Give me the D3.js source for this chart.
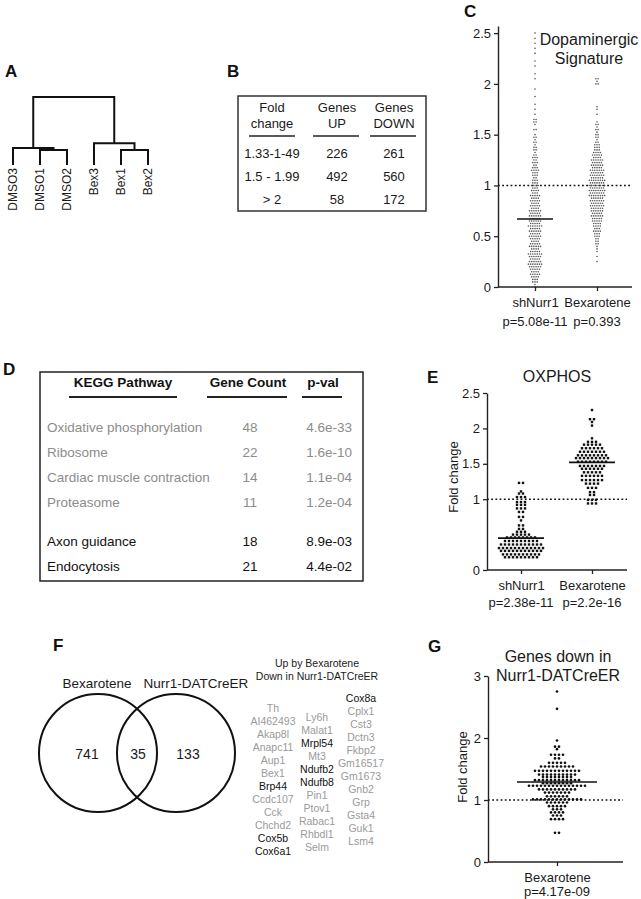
<!DOCTYPE html>
<html>
<head>
<meta charset="utf-8">
<script src="https://cdnjs.cloudflare.com/ajax/libs/d3/7.8.5/d3.min.js"></script>
<style>
body { margin: 0; background: #fff; }
svg { display: block; font-family: "Liberation Sans", Arial, sans-serif; }
</style>
</head>
<body>
<script>

var width = 641,
  height = 899;

// ---- data ----

// A: dendrogram (merge heights in relative distance)
var leafNames = ["DMSO3", "DMSO1", "DMSO2", "Bex3", "Bex1", "Bex2"];
var mergeHeights = { root: 1, dmso: 0.25, dmso12: 0.22, bex: 0.32, bex12: 0.22 };

// B: fold change table
var foldRanges = ["1.33-1-49", "1.5 - 1.99", "> 2"];
var genesUp = [226, 492, 58];
var genesDown = [261, 560, 172];
var tableBHeaders = [["Fold", "change"], ["Genes", "UP"], ["Genes", "DOWN"]];

// C: dopaminergic signature, [fold change, number of genes at that level]
var cCategories = ["shNurr1", "Bexarotene"];
var cPvals = ["p=5.08e-11", "p=0.393"];
var cShNurr1 = [[2.5,1],[2.45,1],[2.4,1],[2.35,1],[2.3,1],[2.225,1],[2.175,1],[2.1,1],[2.05,1],[1.95,1],[1.875,1],[1.8,1],
  [1.75,1],[1.7,1],[1.65,2],[1.625,2],[1.6,1],[1.55,2],[1.5,1],[1.475,2],[1.45,1],[1.425,2],[1.4,1],[1.375,2],[1.35,2],
  [1.325,1],[1.3,2],[1.275,3],[1.25,2],[1.225,3],[1.2,2],[1.175,3],[1.15,4],[1.125,3],[1.1,3],[1.075,2],[1.05,3],[1.025,3],
  [1.0,4],[0.975,3],[0.95,4],[0.925,3],[0.9,5],[0.875,4],[0.85,5],[0.825,4],[0.8,5],[0.775,4],[0.75,6],[0.725,5],[0.7,6],
  [0.675,5],[0.65,6],[0.625,5],[0.6,7],[0.575,5],[0.55,6],[0.525,5],[0.5,6],[0.475,5],[0.45,4],[0.425,5],[0.4,6],[0.375,4],
  [0.35,5],[0.325,7],[0.3,6],[0.275,5],[0.25,6],[0.225,7],[0.2,6],[0.175,5],[0.15,4],[0.125,5],[0.1,4],[0.075,3],[0.05,3],
  [0.025,1],[0,1]];
var cBexarotene = [[2.05,2],[2.025,1],[2.0,2],[1.775,1],[1.75,1],[1.7,1],[1.625,1],[1.6,2],[1.575,1],[1.55,2],[1.525,1],
  [1.5,2],[1.475,2],[1.45,1],[1.425,2],[1.4,3],[1.375,3],[1.35,3],[1.325,4],[1.3,5],[1.275,4],[1.25,6],[1.225,5],[1.2,6],
  [1.175,5],[1.15,7],[1.125,6],[1.1,7],[1.075,6],[1.05,8],[1.025,7],[1.0,8],[0.975,7],[0.95,8],[0.925,7],[0.9,8],[0.875,6],
  [0.85,7],[0.825,6],[0.8,7],[0.775,6],[0.75,6],[0.725,5],[0.7,6],[0.675,5],[0.65,5],[0.625,4],[0.6,4],[0.575,3],[0.55,4],
  [0.525,3],[0.5,3],[0.475,2],[0.45,2],[0.425,2],[0.4,1],[0.375,1],[0.35,1],[0.3,1],[0.25,1]];
var cCenterLines = [0.67, null];
var cTicks = [0, 0.5, 1, 1.5, 2, 2.5];

// D: KEGG table
var pathways = ["Oxidative phosphorylation", "Ribosome", "Cardiac muscle contraction", "Proteasome", "Axon guidance", "Endocytosis"];
var geneCounts = [48, 22, 14, 11, 18, 21];
var pathwayPvals = ["4.6e-33", "1.6e-10", "1.1e-04", "1.2e-04", "8.9e-03", "4.4e-02"];
var pathwayShade = ["grey", "grey", "grey", "grey", "black", "black"];

// E: OXPHOS
var eCategories = ["shNurr1", "Bexarotene"];
var ePvals = ["p=2.38e-11", "p=2.2e-16"];
var eShNurr1 = [[1.23,2],[1.11,1],[1.08,2],[1.03,3],[0.96,3],[0.92,3],[0.87,3],[0.82,2],[0.75,2],[0.7,1],[0.63,2],
  [0.58,2],[0.54,3],[0.5,5],[0.46,8],[0.41,9],[0.36,11],[0.31,12],[0.27,11],[0.22,10],[0.18,9]];
var eBexarotene = [[2.26,1],[2.13,2],[2.09,1],[2.04,1],[1.86,1],[1.81,3],[1.77,5],[1.72,6],[1.67,7],[1.62,8],[1.58,9],
  [1.53,8],[1.47,7],[1.43,6],[1.38,5],[1.33,6],[1.27,6],[1.22,4],[1.16,3],[1.1,2],[1.06,2],[0.99,3],[0.94,3]];
var eCenterLines = [0.45, 1.52];
var eTicks = [0, 1, 1.5, 2, 2.5];

// F: Venn + overlap genes
var vennSets = ["Bexarotene", "Nurr1-DATCreER"];
var vennCounts = [741, 35, 133];
var geneCol1 = ["Th", "AI462493", "Akap8l", "Anapc11", "Aup1", "Bex1", "Brp44", "Ccdc107", "Cck", "Chchd2", "Cox5b", "Cox6a1"];
var geneCol2 = ["Ly6h", "Malat1", "Mrpl54", "Mt3", "Ndufb2", "Ndufb8", "Pin1", "Ptov1", "Rabac1", "Rhbdl1", "Selm"];
var geneCol3 = ["Cox8a", "Cplx1", "Cst3", "Dctn3", "Fkbp2", "Gm16517", "Gm1673", "Gnb2", "Grp", "Gsta4", "Guk1", "Lsm4"];
var darkGenes = ["Brp44", "Cox5b", "Cox6a1", "Mrpl54", "Ndufb2", "Ndufb8", "Cox8a"];

// G: genes down in Nurr1-DATCreER
var gCategories = ["Bexarotene"];
var gPvals = ["p=4.17e-09"];
var gBexarotene = [[2.75,1],[2.47,1],[1.96,1],[1.86,2],[1.82,1],[1.73,4],[1.67,2],[1.6,5],[1.54,9],[1.47,12],[1.41,10],
  [1.37,8],[1.32,12],[1.27,8],[1.23,15],[1.17,10],[1.12,7],[1.06,6],[1.01,13],[0.96,6],[0.9,5],[0.85,3],[0.8,4],
  [0.75,3],[0.69,4],[0.47,2]];
var gCenterLines = [1.29];
var gTicks = [0, 1, 2, 3];

// ---- drawing ----

var svg = d3.select("body").append("svg")
  .attr("width", width)
  .attr("height", height);

var ink = "#1a1a1a";

function label(txt, x, y) {
  svg.append("text").attr("x", x).attr("y", y)
    .attr("font-size", 17).attr("font-weight", "bold").attr("fill", "#111")
    .text(txt);
}
label("A", 5, 77);
label("B", 227, 77);
label("C", 464, 17);
label("D", 3, 375);
label("E", 427, 383);
label("F", 53, 651);
label("G", 428, 652);

// A: dendrogram
var tree = { h: mergeHeights.root, children: [
  { h: mergeHeights.dmso, children: [{ name: "DMSO3" }, { h: mergeHeights.dmso12, children: [{ name: "DMSO1" }, { name: "DMSO2" }] }] },
  { h: mergeHeights.bex, children: [{ name: "Bex3" }, { h: mergeHeights.bex12, children: [{ name: "Bex1" }, { name: "Bex2" }] }] }
]};
var root = d3.hierarchy(tree);
var xLeaf = d3.scalePoint().domain(leafNames).range([13, 148]);
var yDist = d3.scaleLinear().domain([0, 1]).range([165, 97]);
root.eachAfter(function(n) {
  n.px = n.children ? d3.mean(n.children, function(c) { return c.px; }) : xLeaf(n.data.name);
  n.py = yDist(n.data.h || 0);
});
var gA = svg.append("g");
gA.selectAll("path").data(root.descendants().filter(function(n) { return n.children; }))
  .enter().append("path")
  .attr("d", function(n) {
    var a = n.children[0], b = n.children[1];
    return "M" + a.px + "," + a.py + "V" + n.py + "H" + b.px + "V" + b.py;
  })
  .attr("fill", "none").attr("stroke", "#111").attr("stroke-width", 2);
gA.selectAll("text").data(leafNames).enter().append("text")
  .attr("transform", function(d) { return "translate(" + xLeaf(d) + ",168) rotate(-90)"; })
  .attr("dy", "0.36em").attr("text-anchor", "end")
  .attr("font-size", 12).attr("fill", ink)
  .text(function(d) { return d; });

// B: table
var gB = svg.append("g");
gB.append("rect").attr("x", 238).attr("y", 96).attr("width", 188).attr("height", 115)
  .attr("fill", "none").attr("stroke", "#333").attr("stroke-width", 1.5);
var colBx = [272, 337, 394];
var underB = [[249, 295], [313, 359], [370, 416]];
tableBHeaders.forEach(function(h, i) {
  h.forEach(function(t, j) {
    gB.append("text").attr("x", colBx[i]).attr("y", 112 + j * 16)
      .attr("text-anchor", "middle").attr("font-size", 13).attr("fill", ink).text(t);
  });
  gB.append("line").attr("x1", underB[i][0]).attr("x2", underB[i][1])
    .attr("y1", 136).attr("y2", 136).attr("stroke", "#222").attr("stroke-width", 1.5);
});
var rowB = d3.scalePoint().domain(foldRanges).range([158, 204]);
[foldRanges, genesUp, genesDown].forEach(function(col, i) {
  gB.selectAll(null).data(col).enter().append("text")
    .attr("x", colBx[i]).attr("y", function(d, k) { return rowB(foldRanges[k]); })
    .attr("text-anchor", "middle").attr("font-size", 13).attr("fill", ink)
    .text(function(d) { return d; });
});

// dot plot helper
function expand(bins, cx, y, sp) {
  var pts = [];
  bins.forEach(function(b) {
    for (var i = 0; i < b[1]; i++) {
      pts.push({ x: cx + (i - (b[1] - 1) / 2) * sp, y: y(b[0]) });
    }
  });
  return pts;
}

function styleAxis(g) {
  g.attr("font-family", null).attr("font-size", 13);
  g.selectAll("path.domain").attr("stroke", "#222").attr("stroke-width", 1.4);
  g.selectAll(".tick line").attr("stroke", "#222").attr("stroke-width", 1.3);
  g.selectAll(".tick text").attr("fill", ink);
}

function dotPanel(opt) {
  var g = svg.append("g");
  var y = d3.scaleLinear().domain(opt.yDomain).range(opt.yRange);
  var x = d3.scalePoint().domain(opt.categories).range(opt.catRange);
  if (opt.categories.length === 1) x.range([opt.catRange[0], opt.catRange[0]]);

  // dashed reference at 1
  g.append("line").attr("x1", opt.xLine[0]).attr("x2", opt.xLine[1])
    .attr("y1", y(1)).attr("y2", y(1))
    .attr("stroke", "#111").attr("stroke-width", 1.6).attr("stroke-dasharray", "1.8,2.4");

  opt.series.forEach(function(bins, i) {
    var cx = x(opt.categories[i]);
    var pts = expand(bins, cx, y, opt.spacing);
    if (opt.square) {
      g.selectAll(null).data(pts).enter().append("rect")
        .attr("x", function(d) { return d.x - opt.r; }).attr("y", function(d) { return d.y - opt.r; })
        .attr("width", opt.r * 2).attr("height", opt.r * 2).attr("fill", opt.color);
    } else {
      g.selectAll(null).data(pts).enter().append("circle")
        .attr("cx", function(d) { return d.x; }).attr("cy", function(d) { return d.y; })
        .attr("r", opt.r).attr("fill", opt.color);
    }
    var c = opt.centers[i];
    if (c != null) {
      g.append("line").attr("x1", cx - opt.lineHalf).attr("x2", cx + opt.lineHalf)
        .attr("y1", y(c)).attr("y2", y(c)).attr("stroke", "#111").attr("stroke-width", 1.6);
    }
  });

  var ya = g.append("g").attr("transform", "translate(" + opt.xLine[0] + ",0)")
    .call(d3.axisLeft(y).tickValues(opt.ticks).tickFormat(d3.format("~g")).tickSize(4).tickPadding(3).tickSizeOuter(0));
  styleAxis(ya);

  g.append("line").attr("x1", opt.xLine[0]).attr("x2", opt.xLine[1])
    .attr("y1", opt.yRange[0]).attr("y2", opt.yRange[0]).attr("stroke", "#222").attr("stroke-width", 1.4);
  var xa = g.append("g").attr("transform", "translate(0," + opt.yRange[0] + ")")
    .call(d3.axisBottom(x).tickSize(4).tickPadding(7).tickSizeOuter(0));
  xa.select("path.domain").remove();
  styleAxis(xa);
  g.selectAll(null).data(opt.pvals).enter().append("text")
    .attr("x", function(d, i) { return x(opt.categories[i]); })
    .attr("y", opt.yRange[0] + opt.pOffset)
    .attr("text-anchor", "middle").attr("font-size", 13).attr("fill", ink)
    .text(function(d) { return d; });

  if (opt.yLabel) {
    g.append("text").attr("transform", "translate(" + opt.yLabel[0] + "," + opt.yLabel[1] + ") rotate(-90)")
      .attr("text-anchor", "middle").attr("dy", "0.35em").attr("font-size", 13).attr("fill", ink)
      .text("Fold change");
  }
  opt.title.forEach(function(t, j) {
    g.append("text").attr("x", opt.titlePos[0]).attr("y", opt.titlePos[1] + j * 19)
      .attr("text-anchor", "middle").attr("font-size", 16).attr("fill", ink).text(t);
  });
}

// C
dotPanel({
  categories: cCategories, series: [cShNurr1, cBexarotene], centers: cCenterLines, pvals: cPvals,
  ticks: cTicks, yDomain: [0, 2.57], yRange: [287, 26], catRange: [535, 597], xLine: [498, 632],
  spacing: 2.2, r: 0.8, color: "#555", square: false, lineHalf: 18, pOffset: 39,
  title: ["Dopaminergic", "Signature"], titlePos: [589, 45]
});

// D: KEGG table
var gD = svg.append("g");
gD.append("rect").attr("x", 40).attr("y", 372).attr("width", 323).attr("height", 209)
  .attr("fill", "none").attr("stroke", "#222").attr("stroke-width", 1.5);
[["KEGG Pathway", 123, 69, 177], ["Gene Count", 248, 207, 287], ["p-val", 323, 302, 342]].forEach(function(h) {
  gD.append("text").attr("x", h[1]).attr("y", 387).attr("text-anchor", "middle")
    .attr("font-size", 13.5).attr("font-weight", "bold").attr("fill", "#111").text(h[0]);
  gD.append("line").attr("x1", h[2]).attr("x2", h[3]).attr("y1", 397).attr("y2", 397)
    .attr("stroke", "#222").attr("stroke-width", 1.8);
});
var rowD = function(i) { return i < 4 ? 432 + 25 * i : 546 + 25 * (i - 4); };
var shade = { grey: "#8c8c8c", black: "#111" };
pathways.forEach(function(p, i) {
  var col = shade[pathwayShade[i]];
  gD.append("text").attr("x", 47).attr("y", rowD(i)).attr("font-size", 13.5).attr("fill", col).text(p);
  gD.append("text").attr("x", 250).attr("y", rowD(i)).attr("text-anchor", "middle").attr("font-size", 13.5).attr("fill", col).text(geneCounts[i]);
  gD.append("text").attr("x", 352).attr("y", rowD(i)).attr("text-anchor", "end").attr("font-size", 13.5).attr("fill", col).text(pathwayPvals[i]);
});

// E
dotPanel({
  categories: eCategories, series: [eShNurr1, eBexarotene], centers: eCenterLines, pvals: ePvals,
  ticks: eTicks, yDomain: [0, 2.5], yRange: [570, 393], catRange: [521, 592], xLine: [487, 627],
  spacing: 4, r: 1.2, color: "#111", square: true, lineHalf: 23, pOffset: 37,
  title: ["OXPHOS"], titlePos: [557, 382], yLabel: [453, 477]
});

// F: Venn
var gF = svg.append("g");
var vennX = d3.scalePoint().domain(vennSets).range([98, 176]);
gF.selectAll("circle").data(vennSets).enter().append("circle")
  .attr("cx", function(d) { return vennX(d); }).attr("cy", 753).attr("r", 59)
  .attr("fill", "none").attr("stroke", "#111").attr("stroke-width", 2);
gF.selectAll("text.set").data(vennSets).enter().append("text")
  .attr("x", function(d, i) { return i === 0 ? 97 : 196; }).attr("y", 688)
  .attr("text-anchor", "middle").attr("font-size", 13.5).attr("fill", ink)
  .text(function(d) { return d; });
var countX = [87, 138, 188];
gF.selectAll("text.cnt").data(vennCounts).enter().append("text")
  .attr("x", function(d, i) { return countX[i]; }).attr("y", 759)
  .attr("text-anchor", "middle").attr("font-size", 14).attr("fill", ink)
  .text(function(d) { return d; });

gF.append("text").attr("x", 317).attr("y", 667).attr("text-anchor", "middle")
  .attr("font-size", 10.5).attr("fill", ink).text("Up by Bexarotene");
gF.append("text").attr("x", 317).attr("y", 680).attr("text-anchor", "middle")
  .attr("font-size", 10.5).attr("fill", ink).text("Down in Nurr1-DATCreER");
[[geneCol1, 273, 712], [geneCol2, 317, 721], [geneCol3, 361, 702]].forEach(function(c) {
  gF.selectAll(null).data(c[0]).enter().append("text")
    .attr("x", c[1]).attr("y", function(d, i) { return c[2] + i * 13; })
    .attr("text-anchor", "middle").attr("font-size", 10.5)
    .attr("fill", function(d) { return darkGenes.indexOf(d) >= 0 ? "#111" : "#9a9a9a"; })
    .text(function(d) { return d; });
});

// G
dotPanel({
  categories: gCategories, series: [gBexarotene], centers: gCenterLines, pvals: gPvals,
  ticks: gTicks, yDomain: [0, 3], yRange: [862, 676], catRange: [557, 557], xLine: [488, 623],
  spacing: 4, r: 1.35, color: "#111", square: false, lineHalf: 40, pOffset: 34,
  title: ["Genes down in", "Nurr1-DATCreER"], titlePos: [558, 662], yLabel: [462, 767]
});

</script>
</body>
</html>
